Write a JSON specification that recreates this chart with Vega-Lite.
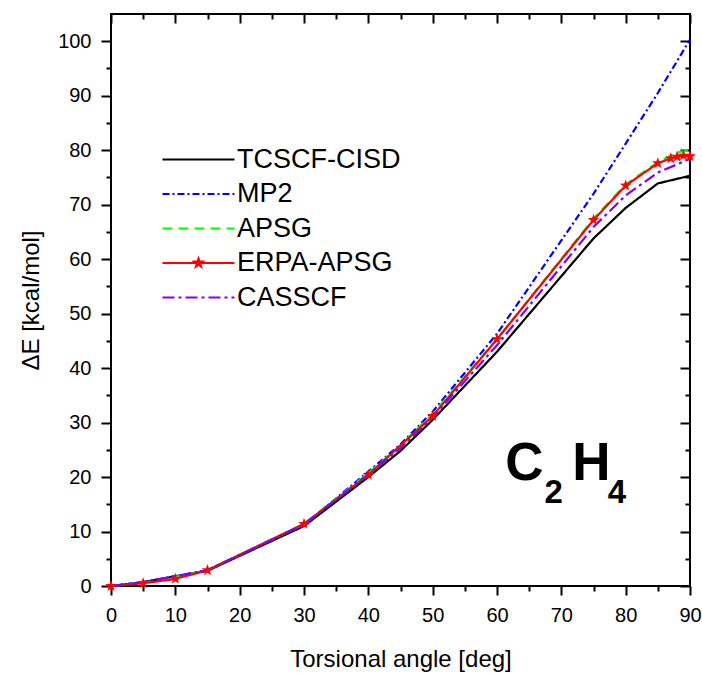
{
  "$schema": "https://vega.github.io/schema/vega-lite/v6.json",
  "width": 579,
  "height": 572,
  "autosize": {"type": "none"},
  "padding": {"left": 111, "top": 14, "right": 12, "bottom": 87},
  "background": "white",
  "config": {
    "view": {"stroke": "black", "strokeWidth": 2},
    "font": "Liberation Sans",
    "axis": {"grid": false, "domain": false, "tickColor": "black", "tickWidth": 2, "labelColor": "black", "titleColor": "black", "labelFont": "Liberation Sans", "titleFont": "Liberation Sans", "titleFontWeight": "normal", "labelFlush": false},
    "legend": {"orient": "none", "legendX": 74, "legendY": 132, "symbolType": "M-4,0H4", "symbolSize": 324, "symbolStrokeWidth": 2, "labelFontSize": 27, "labelFont": "Liberation Sans", "labelColor": "black", "labelOffset": 25, "rowPadding": 6.5, "padding": 0, "labelLimit": 0}
  },
  "datasets": {
    "curves": [
      {"angle": 0, "dE": 0, "method": "TCSCF-CISD"},
      {"angle": 5, "dE": 0.7, "method": "TCSCF-CISD"},
      {"angle": 10, "dE": 1.8, "method": "TCSCF-CISD"},
      {"angle": 15, "dE": 2.8, "method": "TCSCF-CISD"},
      {"angle": 30, "dE": 11.0, "method": "TCSCF-CISD"},
      {"angle": 40, "dE": 20.0, "method": "TCSCF-CISD"},
      {"angle": 45, "dE": 24.8, "method": "TCSCF-CISD"},
      {"angle": 50, "dE": 30.5, "method": "TCSCF-CISD"},
      {"angle": 60, "dE": 43.0, "method": "TCSCF-CISD"},
      {"angle": 75, "dE": 63.8, "method": "TCSCF-CISD"},
      {"angle": 80, "dE": 69.4, "method": "TCSCF-CISD"},
      {"angle": 85, "dE": 73.9, "method": "TCSCF-CISD"},
      {"angle": 90, "dE": 75.3, "method": "TCSCF-CISD"},
      {"angle": 0, "dE": 0, "method": "MP2"},
      {"angle": 5, "dE": 0.7, "method": "MP2"},
      {"angle": 10, "dE": 1.8, "method": "MP2"},
      {"angle": 15, "dE": 2.9, "method": "MP2"},
      {"angle": 30, "dE": 11.2, "method": "MP2"},
      {"angle": 40, "dE": 21.0, "method": "MP2"},
      {"angle": 45, "dE": 26.0, "method": "MP2"},
      {"angle": 50, "dE": 32.0, "method": "MP2"},
      {"angle": 60, "dE": 46.3, "method": "MP2"},
      {"angle": 75, "dE": 72.0, "method": "MP2"},
      {"angle": 80, "dE": 81.2, "method": "MP2"},
      {"angle": 85, "dE": 90.5, "method": "MP2"},
      {"angle": 90, "dE": 100.3, "method": "MP2"},
      {"angle": 0, "dE": 0, "method": "APSG"},
      {"angle": 5, "dE": 0.6, "method": "APSG"},
      {"angle": 10, "dE": 1.7, "method": "APSG"},
      {"angle": 15, "dE": 2.9, "method": "APSG"},
      {"angle": 30, "dE": 11.4, "method": "APSG"},
      {"angle": 40, "dE": 20.7, "method": "APSG"},
      {"angle": 45, "dE": 25.8, "method": "APSG"},
      {"angle": 50, "dE": 31.6, "method": "APSG"},
      {"angle": 60, "dE": 45.3, "method": "APSG"},
      {"angle": 75, "dE": 67.4, "method": "APSG"},
      {"angle": 80, "dE": 73.7, "method": "APSG"},
      {"angle": 85, "dE": 77.8, "method": "APSG"},
      {"angle": 88, "dE": 79.6, "method": "APSG"},
      {"angle": 90, "dE": 80.0, "method": "APSG"},
      {"angle": 0, "dE": 0, "method": "ERPA-APSG"},
      {"angle": 5, "dE": 0.5, "method": "ERPA-APSG"},
      {"angle": 10, "dE": 1.3, "method": "ERPA-APSG"},
      {"angle": 15, "dE": 2.9, "method": "ERPA-APSG"},
      {"angle": 30, "dE": 11.4, "method": "ERPA-APSG"},
      {"angle": 40, "dE": 20.4, "method": "ERPA-APSG"},
      {"angle": 50, "dE": 31.2, "method": "ERPA-APSG"},
      {"angle": 60, "dE": 45.3, "method": "ERPA-APSG"},
      {"angle": 75, "dE": 67.2, "method": "ERPA-APSG"},
      {"angle": 80, "dE": 73.5, "method": "ERPA-APSG"},
      {"angle": 85, "dE": 77.6, "method": "ERPA-APSG"},
      {"angle": 87, "dE": 78.5, "method": "ERPA-APSG"},
      {"angle": 88, "dE": 78.8, "method": "ERPA-APSG"},
      {"angle": 89, "dE": 79.0, "method": "ERPA-APSG"},
      {"angle": 90, "dE": 78.9, "method": "ERPA-APSG"},
      {"angle": 0, "dE": 0, "method": "CASSCF"},
      {"angle": 5, "dE": 0.7, "method": "CASSCF"},
      {"angle": 10, "dE": 1.8, "method": "CASSCF"},
      {"angle": 15, "dE": 2.9, "method": "CASSCF"},
      {"angle": 30, "dE": 11.3, "method": "CASSCF"},
      {"angle": 40, "dE": 20.5, "method": "CASSCF"},
      {"angle": 45, "dE": 25.3, "method": "CASSCF"},
      {"angle": 50, "dE": 31.0, "method": "CASSCF"},
      {"angle": 60, "dE": 44.2, "method": "CASSCF"},
      {"angle": 75, "dE": 65.9, "method": "CASSCF"},
      {"angle": 80, "dE": 71.7, "method": "CASSCF"},
      {"angle": 85, "dE": 75.9, "method": "CASSCF"},
      {"angle": 90, "dE": 78.4, "method": "CASSCF"}
    ],
    "bigLetters": [
      {"letter": "C", "angle": 61.3, "dE": 19.4},
      {"letter": "H", "angle": 71.7, "dE": 19.4}
    ],
    "subscripts": [
      {"letter": "2", "angle": 67.4, "dE": 15.2},
      {"letter": "4", "angle": 77.2, "dE": 15.2}
    ]
  },
  "layer": [
    {
      "data": {"name": "curves"},
      "mark": {"type": "line", "strokeWidth": 2.2},
      "encoding": {
        "x": {"field": "angle", "type": "quantitative", "scale": {"domain": [0, 90], "nice": false, "zero": false},
              "axis": {"orient": "bottom", "values": [0, 10, 20, 30, 40, 50, 60, 70, 80, 90], "tickSize": 9, "labelFontSize": 20, "labelPadding": 10, "title": "Torsional angle [deg]", "titleFontSize": 24, "titlePadding": 22}},
        "y": {"field": "dE", "type": "quantitative", "scale": {"domain": [0, 105], "nice": false, "zero": false},
              "axis": {"orient": "left", "values": [0, 10, 20, 30, 40, 50, 60, 70, 80, 90, 100], "tickSize": 10, "labelFontSize": 20, "labelPadding": 10, "title": "ΔE [kcal/mol]", "titleFontSize": 24, "titlePadding": 14}},
        "color": {"field": "method", "type": "nominal",
                  "scale": {"domain": ["TCSCF-CISD", "MP2", "APSG", "ERPA-APSG", "CASSCF"], "range": ["#000000", "#0000ff", "#00ff00", "#ff0000", "#8000ff"]},
                  "legend": {"title": null, "encode": {"symbols": {"update": {
                    "shape": {"signal": "datum.value === 'ERPA-APSG' ? 'M-4,0H4M0,-0.5L0.118,-0.162L0.476,-0.155L0.19,0.062L0.294,0.405L0,0.2L-0.294,0.405L-0.19,0.062L-0.476,-0.155L-0.118,-0.162Z' : 'M-4,0H4'"},
                    "fill": {"signal": "datum.value === 'ERPA-APSG' ? '#ff0000' : 'transparent'"}
                  }}}}},
        "strokeDash": {"field": "method", "type": "nominal",
                       "scale": {"domain": ["TCSCF-CISD", "MP2", "APSG", "ERPA-APSG", "CASSCF"], "range": [[1, 0], [7, 3, 2, 3], [10, 6], [1, 0], [12, 4, 3, 4]]},
                       "legend": {"title": null}}
      }
    },
    {
      "data": {"name": "curves"},
      "transform": [{"filter": "datum.method === 'ERPA-APSG'"}],
      "mark": {"type": "point", "filled": true, "color": "#ff0000", "opacity": 1, "size": 150, "strokeWidth": 0,
               "shape": "M0,-1L0.235,-0.324L0.951,-0.309L0.38,0.124L0.588,0.809L0,0.4L-0.588,0.809L-0.38,0.124L-0.951,-0.309L-0.235,-0.324Z"},
      "encoding": {
        "x": {"field": "angle", "type": "quantitative", "axis": null},
        "y": {"field": "dE", "type": "quantitative", "axis": null}
      }
    },
    {
      "data": {"name": "curves"},
      "mark": {"type": "point", "opacity": 0},
      "encoding": {
        "x": {"field": "angle", "type": "quantitative", "axis": {"orient": "bottom", "values": [5, 15, 25, 35, 45, 55, 65, 75, 85], "tickSize": 5, "labels": false, "title": null}},
        "y": {"field": "dE", "type": "quantitative", "axis": {"orient": "left", "values": [5, 15, 25, 35, 45, 55, 65, 75, 85, 95], "tickSize": 5, "labels": false, "title": null}}
      }
    },
    {
      "data": {"name": "curves"},
      "mark": {"type": "point", "opacity": 0},
      "encoding": {
        "x": {"field": "angle", "type": "quantitative", "axis": {"orient": "top", "offset": -9, "values": [0, 10, 20, 30, 40, 50, 60, 70, 80, 90], "tickSize": 9, "labels": false, "title": null}},
        "y": {"field": "dE", "type": "quantitative", "axis": {"orient": "right", "offset": -10, "values": [0, 10, 20, 30, 40, 50, 60, 70, 80, 90, 100], "tickSize": 10, "labels": false, "title": null}}
      }
    },
    {
      "data": {"name": "curves"},
      "mark": {"type": "point", "opacity": 0},
      "encoding": {
        "x": {"field": "angle", "type": "quantitative", "axis": {"orient": "top", "offset": -5, "values": [5, 15, 25, 35, 45, 55, 65, 75, 85], "tickSize": 5, "labels": false, "title": null}},
        "y": {"field": "dE", "type": "quantitative", "axis": {"orient": "right", "offset": -5, "values": [5, 15, 25, 35, 45, 55, 65, 75, 85, 95], "tickSize": 5, "labels": false, "title": null}}
      }
    },
    {
      "data": {"name": "bigLetters"},
      "mark": {"type": "text", "align": "left", "baseline": "alphabetic", "font": "Liberation Sans", "fontWeight": "bold", "fontSize": 53, "color": "black"},
      "encoding": {
        "x": {"field": "angle", "type": "quantitative", "axis": null},
        "y": {"field": "dE", "type": "quantitative", "axis": null},
        "text": {"field": "letter"}
      }
    },
    {
      "data": {"name": "subscripts"},
      "mark": {"type": "text", "align": "left", "baseline": "alphabetic", "font": "Liberation Sans", "fontWeight": "bold", "fontSize": 33, "color": "black"},
      "encoding": {
        "x": {"field": "angle", "type": "quantitative", "axis": null},
        "y": {"field": "dE", "type": "quantitative", "axis": null},
        "text": {"field": "letter"}
      }
    }
  ],
  "resolve": {"axis": {"x": "independent", "y": "independent"}}
}
